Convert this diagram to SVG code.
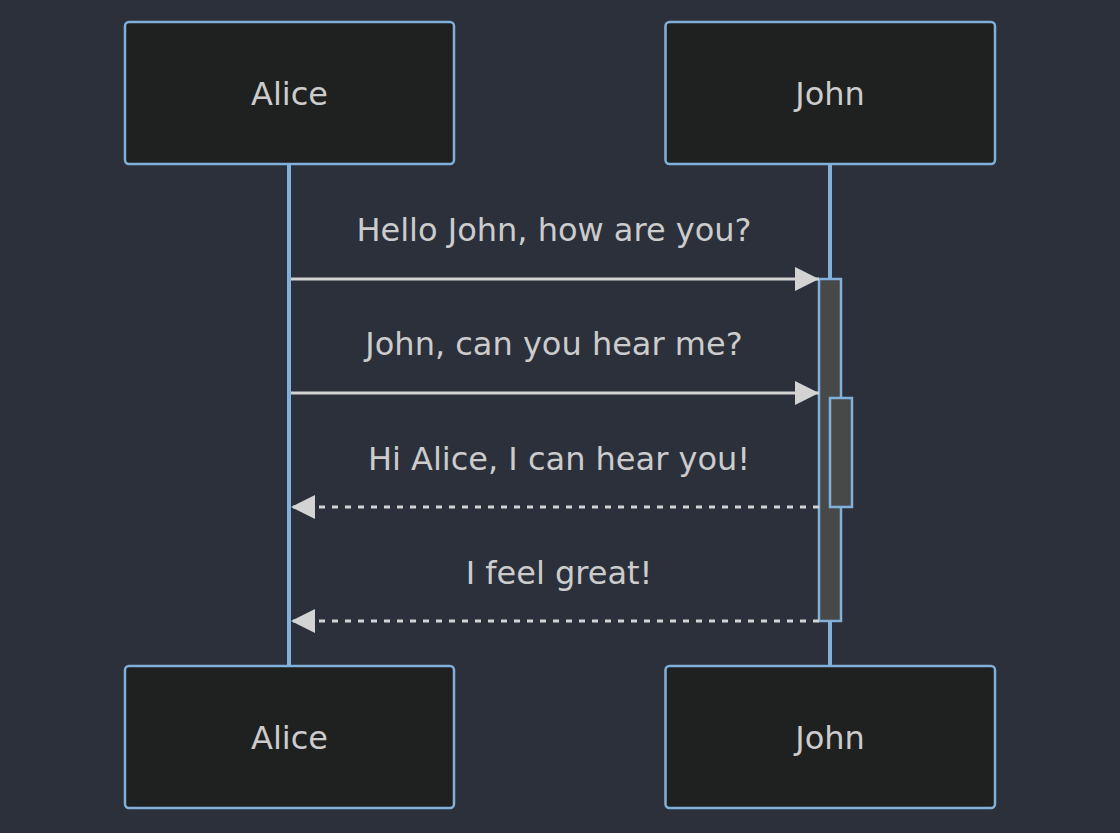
<svg xmlns="http://www.w3.org/2000/svg" width="1120" height="833" viewBox="0 0 1120 833">
<style>
.actor{fill:#1f2020;stroke:#81b1db;stroke-width:2.5}
.atext{fill:#cccccc;font-family:"DejaVu Sans",sans-serif;font-size:32px;text-anchor:middle;dominant-baseline:central}
.mtext{fill:#cccccc;font-family:"DejaVu Sans",sans-serif;font-size:32px;text-anchor:middle;dominant-baseline:central}
.life{stroke:#81b1db;stroke-width:4}
.msg{stroke:#d3d3d3;stroke-width:3;fill:none}
.dash{stroke-dasharray:6,7}
.act{fill:#474949;stroke:#81b1db;stroke-width:2.5}
</style>
<defs>
<marker id="ah" markerUnits="userSpaceOnUse" markerWidth="26" markerHeight="26" refX="24" refY="12" orient="auto">
<path d="M0,0 L24,12 L0,24 z" fill="#d3d3d3"/>
</marker>
</defs>
<rect width="1120" height="833" fill="#2b303b"/>
<g id="lifelines">
<line class="life" x1="289" y1="164" x2="289" y2="666"/>
<line class="life" x1="830" y1="164" x2="830" y2="666"/>
</g>
<g id="alice-top"><rect class="actor" x="125" y="22" width="329" height="142" rx="4"/><text class="atext" x="289.5" y="94">Alice</text></g>
<g id="john-top"><rect class="actor" x="665.5" y="22" width="329.5" height="142" rx="4"/><text class="atext" x="830" y="94">John</text></g>
<g id="alice-bottom"><rect class="actor" x="125" y="666" width="329" height="142" rx="4"/><text class="atext" x="289.5" y="738">Alice</text></g>
<g id="john-bottom"><rect class="actor" x="665.5" y="666" width="329.5" height="142" rx="4"/><text class="atext" x="830" y="738">John</text></g>
<g id="activations">
<rect class="act" x="819" y="279" width="22" height="342"/>
<rect class="act" x="830" y="398" width="22" height="109"/>
</g>
<g id="connectors">
<line class="msg" x1="291" y1="279" x2="819" y2="279" marker-end="url(#ah)"/>
<line class="msg" x1="291" y1="393" x2="819" y2="393" marker-end="url(#ah)"/>
<line class="msg dash" x1="819" y1="507" x2="291" y2="507" marker-end="url(#ah)"/>
<line class="msg dash" x1="819" y1="621" x2="291" y2="621" marker-end="url(#ah)"/>
</g>
<g id="labels">
<text class="mtext" x="554" y="230">Hello John, how are you?</text>
<text class="mtext" x="554" y="344">John, can you hear me?</text>
<text class="mtext" x="559" y="459">Hi Alice, I can hear you!</text>
<text class="mtext" x="559" y="573">I feel great!</text>
</g>
</svg>
